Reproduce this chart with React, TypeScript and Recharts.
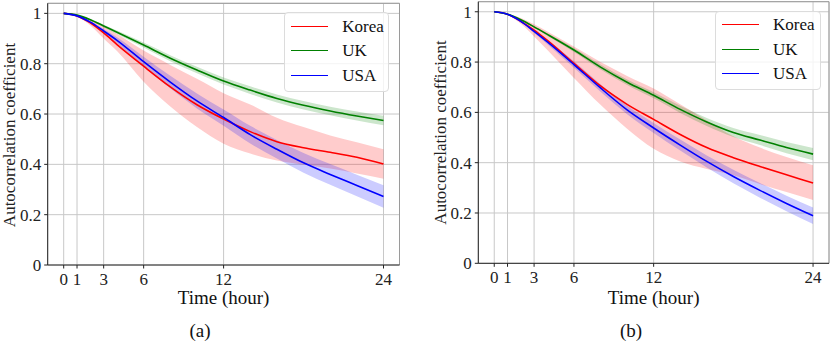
import React from 'react';
import {
  ComposedChart,
  Line,
  Area,
  XAxis,
  YAxis,
  CartesianGrid,
  ReferenceLine,
  Legend,
  Label,
} from 'recharts';

const FONT = "'Liberation Serif', 'Times New Roman', serif";

const hours = [0, 1, 2, 3, 4, 6, 8, 10, 12, 14, 16, 18, 20, 22, 24];
const xTicks = [0, 1, 3, 6, 12, 24];
const yTicks = [0, 0.2, 0.4, 0.6, 0.8, 1];
const seriesNames = ['Korea', 'UK', 'USA'];
const seriesColors = ['#ff0000', '#008000', '#0000ff'];

// Panel (a)
const aKoreaMean = [1, 0.99, 0.962, 0.922, 0.876, 0.79, 0.708, 0.637, 0.58, 0.53, 0.49, 0.466, 0.448, 0.428, 0.401];
const aKoreaLow = [1, 0.988, 0.952, 0.9, 0.85, 0.728, 0.63, 0.548, 0.482, 0.443, 0.415, 0.398, 0.383, 0.364, 0.343];
const aKoreaHigh = [1, 0.992, 0.975, 0.948, 0.918, 0.852, 0.795, 0.74, 0.683, 0.638, 0.585, 0.548, 0.515, 0.488, 0.46];
const aUKMean = [1, 0.993, 0.975, 0.95, 0.925, 0.874, 0.822, 0.775, 0.731, 0.695, 0.662, 0.635, 0.612, 0.592, 0.574];
const aUKLow = [1, 0.992, 0.972, 0.945, 0.918, 0.864, 0.81, 0.762, 0.717, 0.68, 0.646, 0.618, 0.595, 0.574, 0.555];
const aUKHigh = [1, 0.994, 0.978, 0.955, 0.932, 0.884, 0.834, 0.788, 0.745, 0.71, 0.678, 0.652, 0.629, 0.61, 0.593];
const aUSAMean = [1, 0.99, 0.965, 0.93, 0.893, 0.808, 0.727, 0.652, 0.586, 0.518, 0.46, 0.406, 0.36, 0.316, 0.272];
const aUSALow = [1, 0.988, 0.96, 0.922, 0.881, 0.788, 0.702, 0.622, 0.553, 0.483, 0.423, 0.367, 0.319, 0.273, 0.228];
const aUSAHigh = [1, 0.992, 0.97, 0.938, 0.905, 0.828, 0.752, 0.682, 0.618, 0.553, 0.497, 0.445, 0.401, 0.359, 0.317];

// Panel (b)
const bKoreaMean = [1, 0.99, 0.962, 0.927, 0.886, 0.795, 0.705, 0.632, 0.572, 0.512, 0.46, 0.42, 0.385, 0.352, 0.319];
const bKoreaLow = [1, 0.988, 0.952, 0.902, 0.848, 0.737, 0.63, 0.535, 0.455, 0.405, 0.375, 0.35, 0.315, 0.283, 0.252];
const bKoreaHigh = [1, 0.992, 0.975, 0.95, 0.922, 0.862, 0.8, 0.745, 0.695, 0.632, 0.568, 0.505, 0.46, 0.423, 0.39];
const bUKMean = [1, 0.99, 0.968, 0.94, 0.91, 0.848, 0.78, 0.72, 0.668, 0.612, 0.562, 0.52, 0.49, 0.46, 0.434];
const bUKLow = [1, 0.989, 0.965, 0.937, 0.905, 0.84, 0.77, 0.709, 0.656, 0.598, 0.546, 0.502, 0.47, 0.438, 0.41];
const bUKHigh = [1, 0.991, 0.971, 0.943, 0.915, 0.856, 0.79, 0.731, 0.68, 0.626, 0.578, 0.538, 0.51, 0.482, 0.458];
const bUSAMean = [1, 0.99, 0.962, 0.922, 0.88, 0.79, 0.697, 0.61, 0.538, 0.47, 0.405, 0.345, 0.29, 0.238, 0.189];
const bUSALow = [1, 0.989, 0.958, 0.916, 0.871, 0.777, 0.682, 0.593, 0.518, 0.448, 0.381, 0.318, 0.261, 0.207, 0.156];
const bUSAHigh = [1, 0.991, 0.966, 0.928, 0.889, 0.803, 0.712, 0.627, 0.558, 0.492, 0.429, 0.372, 0.319, 0.269, 0.222];

function buildRows(mean: number[][], low: number[][], high: number[][]) {
  return hours.map((h, i) => {
    const row: any = { h };
    seriesNames.forEach((name, s) => {
      row[name] = mean[s][i];
      row[name + '_band'] = [low[s][i], high[s][i]];
    });
    return row;
  });
}

const rowsA = buildRows(
  [aKoreaMean, aUKMean, aUSAMean],
  [aKoreaLow, aUKLow, aUSALow],
  [aKoreaHigh, aUKHigh, aUSAHigh]
);
const rowsB = buildRows(
  [bKoreaMean, bUKMean, bUSAMean],
  [bKoreaLow, bUKLow, bUSALow],
  [bKoreaHigh, bUKHigh, bUSAHigh]
);

type PanelProps = {
  rows: any[];
  left: number;
  yAxisWidth: number;
  margin: { top: number; right: number; bottom: number; left: number };
  legendBox: { x: number; y: number; w: number; h: number };
  yLabelX: number;
  yLabelY: number;
  sub: string;
  subX: number;
};

const makeLegend = (box: { w: number; h: number }) => (props: any) => {
  const items = (props.payload || []).filter((it: any) => seriesNames.includes(it.value));
  return (
    <div
      style={{
        width: box.w,
        height: box.h,
        boxSizing: 'border-box',
        border: '1px solid #dcdcdc',
        borderRadius: 4,
        background: 'rgba(255,255,255,0.8)',
        paddingTop: 0.5,
        fontFamily: FONT,
      }}
    >
      {items.map((it: any) => (
        <div key={it.value} style={{ height: 24.6, display: 'flex', alignItems: 'center' }}>
          <div style={{ marginLeft: 6, width: 36.6, height: 0, borderTop: `1.6px solid ${it.color}` }} />
          <span style={{ marginLeft: 14.4, fontSize: 17, color: '#111', lineHeight: '17px', fontFamily: FONT }}>{it.value}</span>
        </div>
      ))}
    </div>
  );
};

const tickStyle = { fontSize: 17, fill: '#222', fontFamily: FONT, style: { fontFamily: FONT } };

function Panel(p: PanelProps) {
  return (
    <div style={{ position: 'absolute', left: p.left, top: 0, width: 415, height: 343, fontFamily: FONT }}>
      <ComposedChart width={415} height={343} data={p.rows} margin={p.margin} style={{ fontFamily: FONT }}>
        <CartesianGrid stroke="#c8c8c8" strokeWidth={1} />
        <XAxis
          dataKey="h"
          type="number"
          domain={[-1.2, 25.2]}
          allowDataOverflow
          ticks={xTicks}
          interval={0}
          height={30}
          stroke="#222"
          tickSize={3.5}
          tickMargin={4}
          tick={tickStyle}
        >
          <Label
            content={(lp: any) => {
              const vb = lp.viewBox || { x: 0, width: 0 };
              return (
                <text x={vb.x + vb.width / 2} y={304} textAnchor="middle" fontSize={19} fill="#111" style={{ fontFamily: FONT }}>
                  Time (hour)
                </text>
              );
            }}
          />
          <Label
            content={() => (
              <text x={p.subX} y={337} textAnchor="middle" fontSize={19} fill="#111" style={{ fontFamily: FONT }}>
                {p.sub}
              </text>
            )}
          />
        </XAxis>
        <YAxis
          type="number"
          domain={[0, 1.04]}
          allowDataOverflow
          ticks={yTicks}
          interval={0}
          width={p.yAxisWidth}
          stroke="#222"
          tickSize={3.5}
          tickMargin={3}
          tickFormatter={(v: number) => (v === 0 || v === 1 ? String(v) : v.toFixed(1))}
          tick={tickStyle}
        >
          <Label
            content={() => (
              <text
                x={p.yLabelX}
                y={p.yLabelY}
                transform={`rotate(-90, ${p.yLabelX}, ${p.yLabelY})`}
                textAnchor="middle"
                fontSize={17}
                fill="#222"
                style={{ fontFamily: FONT }}
              >
                Autocorrelation coefficient
              </text>
            )}
          />
        </YAxis>
        <ReferenceLine y={1.04} stroke="#9a9a9a" strokeWidth={1} ifOverflow="extendDomain" />
        <ReferenceLine x={25.2} stroke="#9a9a9a" strokeWidth={1} ifOverflow="extendDomain" />
        {seriesNames.map((name, s) => (
          <Area
            key={name + '_band'}
            name={name + ' band'}
            dataKey={name + '_band'}
            type="monotone"
            stroke="none"
            fill={seriesColors[s]}
            fillOpacity={0.2}
            legendType="none"
            dot={false}
            activeDot={false}
            isAnimationActive={false}
          />
        ))}
        {seriesNames.map((name, s) => (
          <Line
            key={name}
            name={name}
            dataKey={name}
            type="monotone"
            stroke={seriesColors[s]}
            strokeWidth={1.6}
            dot={false}
            activeDot={false}
            isAnimationActive={false}
          />
        ))}
        <Legend
          layout="vertical"
          align="center"
          verticalAlign="middle"
          wrapperStyle={{ left: p.legendBox.x, top: p.legendBox.y, width: p.legendBox.w, height: p.legendBox.h }}
          content={makeLegend(p.legendBox)}
        />
      </ComposedChart>
    </div>
  );
}

export default function App() {
  return (
    <div style={{ position: 'absolute', left: 0, top: 0, width: 830, height: 343, background: '#fff', overflow: 'hidden' }}>
      <Panel
        rows={rowsA}
        left={0}
        yAxisWidth={47.7}
        margin={{ top: 3.3, right: 15.5, bottom: 48, left: 0 }}
        legendBox={{ x: 284.3, y: 12.3, w: 105, h: 79.4 }}
        yLabelX={14.5}
        yLabelY={135}
        sub="(a)"
        subX={200}
      />
      <Panel
        rows={rowsB}
        left={415}
        yAxisWidth={63.3}
        margin={{ top: 1.7, right: 1, bottom: 49.7, left: 0 }}
        legendBox={{ x: 300, y: 10.7, w: 106, h: 79.3 }}
        yLabelX={30.5}
        yLabelY={132.5}
        sub="(b)"
        subX={216}
      />
    </div>
  );
}
